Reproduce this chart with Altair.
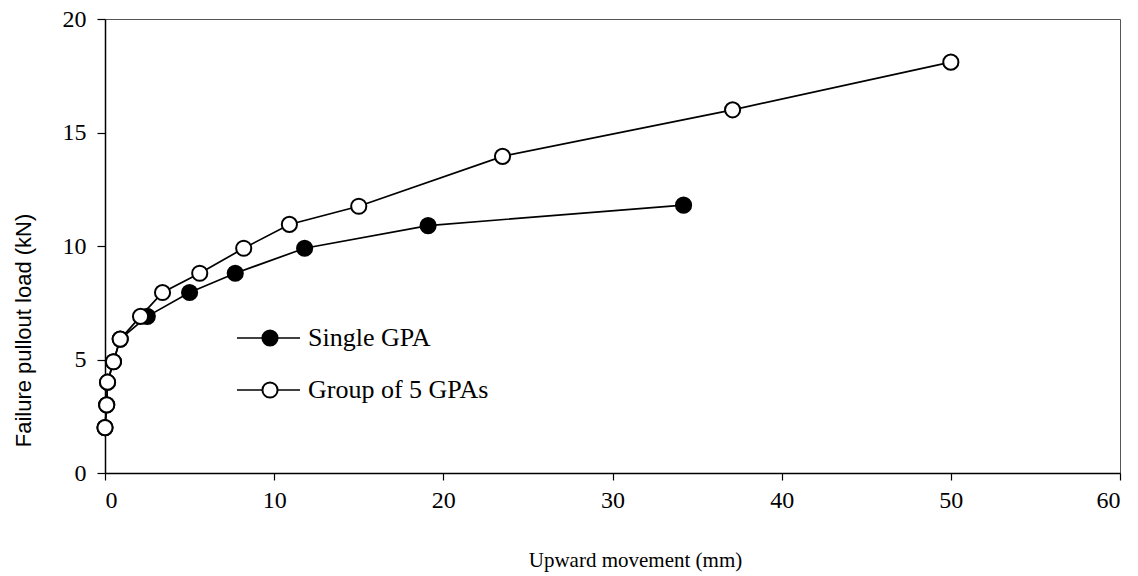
import altair as alt
import pandas as pd

# ---- data ----
single_x = [0.0, 0.1, 0.15, 0.5, 0.9, 2.5, 5.0, 7.7, 11.8, 19.1, 34.2]
single_y = [2.0, 3.0, 4.0, 4.9, 5.9, 6.9, 7.95, 8.8, 9.9, 10.9, 11.8]
group_x = [0.0, 0.1, 0.15, 0.5, 0.9, 2.1, 3.4, 5.6, 8.2, 10.9, 15.0, 23.5, 37.1, 50.0]
group_y = [2.0, 3.0, 4.0, 4.9, 5.9, 6.9, 7.95, 8.8, 9.9, 10.95, 11.75, 13.95, 16.0, 18.1]
series_names = ["Single GPA", "Group of 5 GPAs"]
x_ticks = [0, 10, 20, 30, 40, 50, 60]
y_ticks = [0, 5, 10, 15, 20]

rows = []
for i, (x, y) in enumerate(zip(single_x, single_y)):
    rows.append({"series": series_names[0], "x": x, "y": y, "i": i})
for i, (x, y) in enumerate(zip(group_x, group_y)):
    rows.append({"series": series_names[1], "x": x, "y": y, "i": 100 + i})
df = pd.DataFrame(rows)

W, H = 1015, 454
SERIF = "Liberation Serif"

xenc = alt.X("x:Q", scale=alt.Scale(domain=[0, 60], nice=False),
             axis=alt.Axis(values=x_ticks, title="Upward movement (mm)", grid=False,
                           tickSize=7, labelPadding=8, labelFont=SERIF, labelFontSize=24,
                           labelColor="black", titleFont=SERIF, titleFontSize=21,
                           titleFontWeight="normal", titleColor="black",
                           titleX=530, titleY=87, titleBaseline="middle", titleAlign="center",
                           domainColor="black", domainWidth=1.5, tickColor="black", tickWidth=1.2))
yenc = alt.Y("y:Q", scale=alt.Scale(domain=[0, 20], nice=False),
             axis=alt.Axis(values=y_ticks, title="Failure pullout load (kN)", grid=False,
                           tickSize=8, labelPadding=11, labelFont=SERIF, labelFontSize=24,
                           labelColor="black", titleFont="Liberation Sans", titleFontSize=22,
                           titleFontWeight="normal", titleColor="black",
                           titleX=-82, titleY=311, titleAngle=270, titleBaseline="middle",
                           titleAlign="center",
                           domainColor="black", domainWidth=1.5, tickColor="black", tickWidth=1.2))

base = alt.Chart(df)
lines = base.mark_line(color="black", strokeWidth=1.7).encode(
    x=xenc, y=yenc, detail="series:N", order="i:Q")
points = base.mark_point(shape="circle", size=230, strokeWidth=2, stroke="black",
                         opacity=1, filled=False).encode(
    x="x:Q", y="y:Q",
    fill=alt.Fill("series:N", scale=alt.Scale(domain=series_names, range=["black", "white"]),
                  legend=None),
    order="i:Q")

# ---- hand-drawn legend ----
leg = pd.DataFrame({"label": series_names, "row": [0, 1]})
leg_base = alt.Chart(leg)
leg_y = {0: 319, 1: 371}
leg_layers = []
for r, name in enumerate(series_names):
    sub = leg_base.transform_filter(alt.datum.row == r)
    leg_layers.append(sub.mark_rule(color="black", strokeWidth=1.7).encode(
        x=alt.value(132), x2=alt.value(195), y=alt.value(leg_y[r])))
    leg_layers.append(sub.mark_point(shape="circle", size=230, strokeWidth=2, stroke="black",
                                     opacity=1, fill="black" if r == 0 else "white",
                                     filled=False).encode(
        x=alt.value(165), y=alt.value(leg_y[r])))
    leg_layers.append(sub.mark_text(align="left", baseline="middle", font=SERIF, fontSize=26,
                                    color="black").encode(
        x=alt.value(203), y=alt.value(leg_y[r]), text="label:N"))

chart = alt.layer(lines, points, *leg_layers).properties(
    width=W, height=H,
    autosize=alt.AutoSizeParams(type="none"),
    padding={"left": 105, "top": 19, "right": 18, "bottom": 103},
    background="white",
).configure_view(stroke="#555", strokeWidth=1)

chart.save("out.html", embed_options={"renderer": "svg", "actions": False})
